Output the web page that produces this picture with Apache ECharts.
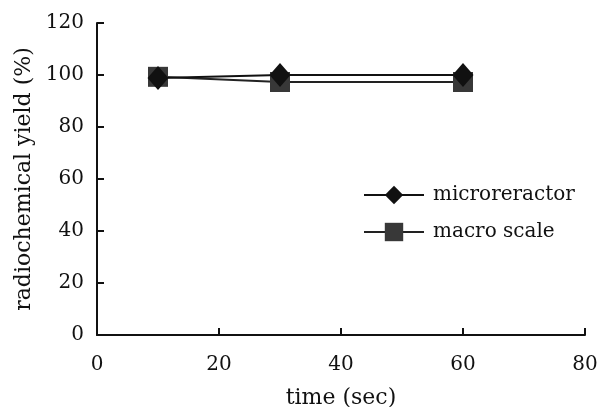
<!DOCTYPE html>
<html><head><meta charset="utf-8">
<script src="https://cdn.jsdelivr.net/npm/echarts@6/dist/echarts.min.js"></script>
<style>html,body{margin:0;padding:0;background:#fff}#c{width:603px;height:407px}</style>
</head><body><div id="c"></div>
<script>
const timeSec = [10, 30, 60];
const microreactor = [98.8, 100, 100];
const macroScale = [99.3, 97.3, 97.3];
const xTicks = [0, 20, 40, 60, 80];
const yTicks = [0, 20, 40, 60, 80, 100, 120];

const font = 'DejaVu Serif';
const chart = echarts.init(document.getElementById('c'));
chart.setOption({
  animation: false,
  backgroundColor: '#fff',
  grid: {left: 97, right: 18, top: 23, bottom: 72, containLabel: false, outerBoundsMode: 'none'},
  legend: {
    orient: 'vertical', left: 358, top: 180, itemGap: 17,
    itemWidth: 60, itemHeight: 23,
    textStyle: {fontFamily: font, fontSize: 20, color: '#111', padding: [0,0,0,4]},
    data: ['microreractor', 'macro scale']
  },
  xAxis: {
    type: 'value', min: xTicks[0], max: xTicks[xTicks.length-1], interval: 20,
    name: 'time (sec)', nameLocation: 'middle', nameGap: 52,
    nameTextStyle: {fontFamily: font, fontSize: 22, color: '#111'},
    axisLine: {lineStyle: {color: '#111', width: 2}},
    axisTick: {inside: true, length: 7, lineStyle: {color: '#111', width: 2}},
    axisLabel: {fontFamily: font, fontSize: 20, color: '#111', margin: 20},
    splitLine: {show: false}
  },
  yAxis: {
    type: 'value', min: yTicks[0], max: yTicks[yTicks.length-1], interval: 20,
    name: 'radiochemical yield (%)', nameLocation: 'middle', nameGap: 60,
    nameTextStyle: {fontFamily: font, fontSize: 22, color: '#111'},
    axisLine: {lineStyle: {color: '#111', width: 2}},
    axisTick: {inside: true, length: 7, lineStyle: {color: '#111', width: 2}},
    axisLabel: {fontFamily: font, fontSize: 20, color: '#111', margin: 13},
    splitLine: {show: false}
  },
  series: [
    {
      name: 'macro scale', type: 'line',
      data: timeSec.map((t, i) => [t, macroScale[i]]),
      symbol: 'rect', symbolSize: 20,
      itemStyle: {color: '#383838'},
      lineStyle: {color: '#222', width: 2}
    },
    {
      name: 'microreractor', type: 'line',
      data: timeSec.map((t, i) => [t, microreactor[i]]),
      symbol: 'diamond', symbolSize: [21, 24],
      itemStyle: {color: '#111'},
      lineStyle: {color: '#111', width: 2}
    }
  ]
});
</script></body></html>
